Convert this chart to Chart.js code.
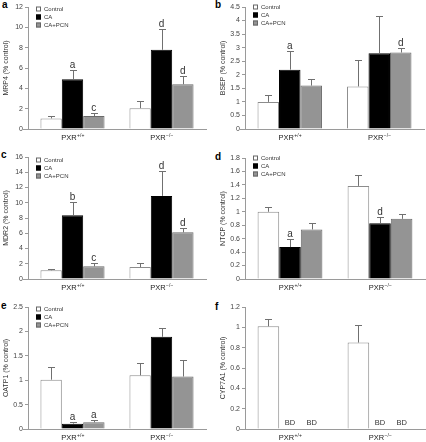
<!DOCTYPE html>
<html><head><meta charset="utf-8">
<script src="https://cdn.jsdelivr.net/npm/chart.js@4/dist/chart.umd.min.js"></script>
<style>
html,body{margin:0;padding:0;background:#fff;}
#wrap{position:relative;width:426px;height:442px;overflow:hidden;font-family:"Liberation Sans",Arial,sans-serif;}
canvas{position:absolute;}
.pl{position:absolute;font-weight:bold;font-size:10px;line-height:10px;color:#000;}
</style></head>
<body><div id="wrap">
<div class="pl" style="left:2px;top:0px">a</div>
<div class="pl" style="left:215px;top:0px">b</div>
<div class="pl" style="left:1px;top:150px">c</div>
<div class="pl" style="left:215px;top:152px">d</div>
<div class="pl" style="left:1px;top:301px">e</div>
<div class="pl" style="left:215px;top:302px">f</div>
</div>
<script>
const categories = ['PXR+/+', 'PXR\u2212/\u2212'];
const seriesNames = ['Control', 'CA', 'CA+PCN'];

// a: MRP4
const mrp4Control = [1.04, 2.05], mrp4ControlErr = [0.23, 0.72];
const mrp4CA = [4.89, 7.79], mrp4CAErr = [0.88, 2.02];
const mrp4PCN = [1.27, 4.40], mrp4PCNErr = [0.29, 0.78];
const mrp4Sig = [['', ''], ['a', 'd'], ['c', 'd']];

// b: BSEP
const bsepControl = [1.00, 1.57], bsepControlErr = [0.26, 0.99];
const bsepCA = [2.19, 2.79], bsepCAErr = [0.68, 1.36];
const bsepPCN = [1.60, 2.82], bsepPCNErr = [0.25, 0.18];
const bsepSig = [['', ''], ['a', ''], ['', 'd']];

// c: MDR2
const mdr2Control = [1.14, 1.57], mdr2ControlErr = [0.13, 0.53];
const mdr2CA = [8.35, 10.9], mdr2CAErr = [1.70, 3.26];
const mdr2PCN = [1.66, 6.12], mdr2PCNErr = [0.44, 0.52];
const mdr2Sig = [['', ''], ['b', 'd'], ['c', 'd']];

// d: NTCP
const ntcpControl = [1.00, 1.385], ntcpControlErr = [0.07, 0.155];
const ntcpCA = [0.475, 0.83], ntcpCAErr = [0.125, 0.09];
const ntcpPCN = [0.737, 0.895], ntcpPCNErr = [0.10, 0.065];
const ntcpSig = [['', ''], ['a', 'd'], ['', '']];

// e: OATP1
const oatp1Control = [1.01, 1.10], oatp1ControlErr = [0.27, 0.26];
const oatp1CA = [0.11, 1.89], oatp1CAErr = [0.03, 0.18];
const oatp1PCN = [0.137, 1.075], oatp1PCNErr = [0.04, 0.345];
const oatp1Sig = [['', ''], ['a', ''], ['a', '']];

// f: CYP7A1
const cypControl = [1.01, 0.85], cypControlErr = [0.07, 0.17];
const cypCA = [0, 0], cypCAErr = [0, 0];
const cypPCN = [0, 0], cypPCNErr = [0, 0];
const cypSig = [['', ''], ['BD', 'BD'], ['BD', 'BD']];

const FONT = '"Liberation Sans", Arial, sans-serif';
const fills = ['#ffffff', '#000000', '#949494'];
const borders = ['#8c8c8c', '#000000', '#6a6a6a'];

const decor = {
  id: 'decor',
  afterDatasetsDraw(chart) {
    const ctx = chart.ctx, ca = chart.chartArea, ys = chart.scales.y, xs = chart.scales.x;
    const o = chart.options.plugins.decor;
    ctx.save();
    // x axis line
    ctx.strokeStyle = '#9a9a9a'; ctx.lineWidth = 1;
    ctx.beginPath(); ctx.moveTo(ca.left - 5, Math.round(ca.bottom) + 0.5); ctx.lineTo(ca.right + 1, Math.round(ca.bottom) + 0.5); ctx.stroke();
    // error bars and letters
    chart.data.datasets.forEach((ds, i) => {
      const meta = chart.getDatasetMeta(i);
      meta.data.forEach((bar, j) => {
        const e = ds.err[j];
        let top = bar.y;
        if (e) {
          top = ys.getPixelForValue(ds.data[j] + e);
          const bx = Math.round(bar.x) + 0.5;
          ctx.strokeStyle = '#707070'; ctx.lineWidth = 1;
          ctx.beginPath(); ctx.moveTo(bx, bar.y); ctx.lineTo(bx, Math.round(top) + 0.5);
          ctx.moveTo(bx - 3.5, Math.round(top) + 0.5); ctx.lineTo(bx + 3.5, Math.round(top) + 0.5); ctx.stroke();
        }
        const s = ds.sig[j];
        if (s) {
          ctx.fillStyle = '#333'; ctx.textAlign = 'center'; ctx.textBaseline = 'alphabetic';
          if (s === 'BD') {
            ctx.font = '7.5px ' + FONT;
            ctx.fillText(s, bar.x, ca.bottom - 4);
          } else {
            ctx.font = '10px ' + FONT;
            ctx.fillText(s, bar.x, top - 2);
          }
        }
      });
    });
    // category labels with superscript
    chart.data.labels.forEach((lab, j) => {
      const cx = xs.getPixelForValue(j);
      const base = lab.slice(0, 3), sup = lab.slice(3);
      ctx.font = '7.5px ' + FONT; const w1 = ctx.measureText(base).width;
      ctx.font = '5px ' + FONT; const w2 = ctx.measureText(sup).width;
      const sx = cx - (w1 + w2) / 2, by = ca.bottom + 11;
      ctx.fillStyle = '#222'; ctx.textAlign = 'left'; ctx.textBaseline = 'alphabetic';
      ctx.font = '7.5px ' + FONT; ctx.fillText(base, sx, by);
      ctx.font = '5px ' + FONT; ctx.fillText(sup, sx + w1 + 0.5, by - 3);
    });
    // legend
    if (o.legend) {
      const lx = ca.left + 8; let ly = ca.top + o.legendDy;
      chart.data.datasets.forEach((ds) => {
        ctx.fillStyle = ds.backgroundColor; ctx.fillRect(lx, ly - 2.5, 5, 5);
        ctx.strokeStyle = ds.borderColor === '#000000' ? '#000' : '#666'; ctx.lineWidth = 1;
        ctx.strokeRect(lx + 0.5, ly - 2.5 + 0.5, 4, 4);
        ctx.fillStyle = '#333'; ctx.font = '6px ' + FONT; ctx.textAlign = 'left'; ctx.textBaseline = 'middle';
        ctx.fillText(ds.label, lx + 8, ly);
        ly += 8;
      });
    }
    ctx.restore();
  }
};

function makeChart(cfg) {
  const c = document.createElement('canvas');
  c.width = 213; c.height = cfg.h;
  c.style.left = cfg.x + 'px'; c.style.top = cfg.y + 'px';
  c.style.width = '213px'; c.style.height = cfg.h + 'px';
  document.getElementById('wrap').appendChild(c);
  const W = 25;
  const datasets = seriesNames.map((n, i) => ({
    label: n, data: cfg.vals[i], err: cfg.errs[i], sig: cfg.sig[i],
    backgroundColor: fills[i], borderColor: borders[i], borderWidth: 1,
    categoryPercentage: 0.72, barPercentage: 1.0
  }));
  new Chart(c, {
    type: 'bar',
    data: { labels: categories, datasets },
    plugins: [decor],
    options: {
      responsive: false, animation: false, devicePixelRatio: 1,
      layout: { padding: { left: cfg.axis - W, top: cfg.top, right: 213 - cfg.right, bottom: cfg.h - cfg.bottom } },
      plugins: { legend: { display: false }, tooltip: { enabled: false },
        decor: { legend: cfg.legend, legendDy: cfg.legendDy } },
      scales: {
        x: { display: true, grid: { display: false }, border: { display: false }, ticks: { display: false },
             afterFit: s => { s.height = 0; } },
        y: { min: 0, max: cfg.max, afterFit: s => { s.width = W; },
             ticks: { stepSize: cfg.step, color: '#444', font: { size: 7, family: FONT }, padding: 2,
                      callback: v => String(+(+v).toFixed(2)) },
             grid: { display: true, drawOnChartArea: false, drawTicks: true, tickLength: 3, color: '#9a9a9a' },
             border: { display: true, color: '#9a9a9a' },
             title: { display: true, text: cfg.title, color: '#333', font: { size: 7, family: FONT, lineHeight: 1 }, padding: 0 } }
      }
    }
  });
}

makeChart({ x: 0, y: 0, h: 145, axis: 28, top: 7, bottom: 129, right: 206, max: 12, step: 2, title: 'MRP4 (% control)',
  vals: [mrp4Control, mrp4CA, mrp4PCN], errs: [mrp4ControlErr, mrp4CAErr, mrp4PCNErr], sig: mrp4Sig, legend: true, legendDy: 2 });
makeChart({ x: 213, y: 0, h: 145, axis: 32, top: 7, bottom: 129, right: 211, max: 4.5, step: 0.5, title: 'BSEP (% control)',
  vals: [bsepControl, bsepCA, bsepPCN], errs: [bsepControlErr, bsepCAErr, bsepPCNErr], sig: bsepSig, legend: true, legendDy: 0 });
makeChart({ x: 0, y: 145, h: 150, axis: 28, top: 12, bottom: 134, right: 206, max: 16, step: 2, title: 'MDR2 (% control)',
  vals: [mdr2Control, mdr2CA, mdr2PCN], errs: [mdr2ControlErr, mdr2CAErr, mdr2PCNErr], sig: mdr2Sig, legend: true, legendDy: 3 });
makeChart({ x: 213, y: 145, h: 150, axis: 32, top: 13, bottom: 134, right: 212, max: 1.8, step: 0.2, title: 'NTCP (% control)',
  vals: [ntcpControl, ntcpCA, ntcpPCN], errs: [ntcpControlErr, ntcpCAErr, ntcpPCNErr], sig: ntcpSig, legend: true, legendDy: 0 });
makeChart({ x: 0, y: 295, h: 147, axis: 28, top: 12, bottom: 134, right: 206, max: 2.5, step: 0.5, title: 'OATP1 (% control)',
  vals: [oatp1Control, oatp1CA, oatp1PCN], errs: [oatp1ControlErr, oatp1CAErr, oatp1PCNErr], sig: oatp1Sig, legend: true, legendDy: 2 });
makeChart({ x: 213, y: 295, h: 147, axis: 32, top: 12, bottom: 134, right: 212, max: 1.2, step: 0.2, title: 'CYP7A1 (% control)',
  vals: [cypControl, cypCA, cypPCN], errs: [cypControlErr, cypCAErr, cypPCNErr], sig: cypSig, legend: false, legendDy: 0 });
</script>
</body></html>
